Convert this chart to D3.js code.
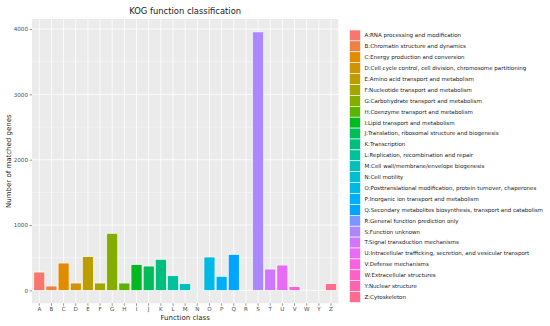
<!DOCTYPE html>
<html>
<head>
<meta charset="utf-8">
<script src="https://cdn.jsdelivr.net/npm/d3@7"></script>
<style>
  body { margin: 0; background: #fff; }
  text { font-family: "DejaVu Sans", sans-serif; }
</style>
</head>
<body>
<div id="chart"></div>
<script>
const classes = ['A','B','C','D','E','F','G','H','I','J','K','L','M','N','O','P','Q','R','S','T','U','V','W','Y','Z']
const counts = [280, 66, 418, 112, 515, 112, 872, 112, 393, 372, 474, 224, 102, 8, 510, 214, 550, 0, 3956, 326, 387, 57, 3, 2, 102]
const descriptions = [
  'A:RNA processing and modification',
  'B:Chromatin structure and dynamics',
  'C:Energy production and conversion',
  'D:Cell cycle control, cell division, chromosome partitioning',
  'E:Amino acid transport and metabolism',
  'F:Nucleotide transport and metabolism',
  'G:Carbohydrate transport and metabolism',
  'H:Coenzyme transport and metabolism',
  'I:Lipid transport and metabolism',
  'J:Translation, ribosomal structure and biogenesis',
  'K:Transcription',
  'L:Replication, recombination and repair',
  'M:Cell wall/membrane/envelope biogenesis',
  'N:Cell motility',
  'O:Posttranslational modification, protein turnover, chaperones',
  'P:Inorganic ion transport and metabolism',
  'Q:Secondary metabolites biosynthesis, transport and catabolism',
  'R:General function prediction only',
  'S:Function unknown',
  'T:Signal transduction mechanisms',
  'U:Intracellular trafficking, secretion, and vesicular transport',
  'V:Defense mechanisms',
  'W:Extracellular structures',
  'Y:Nuclear structure',
  'Z:Cytoskeleton'
]
const yTicks = [0, 1000, 2000, 3000, 4000]

const data = classes.map((c, i) => ({ cls: c, n: counts[i], desc: descriptions[i] }))

// polar LUV -> sRGB, same as R's hcl()
function hcl(h, c, l) {
  const rad = h * Math.PI / 180
  const U = c * Math.cos(rad), V = c * Math.sin(rad)
  const Xn = 95.047, Yn = 100, Zn = 108.883
  const Y = Yn * (l > 8 ? Math.pow((l + 16) / 116, 3) : l / 903.3)
  const den = Xn + 15 * Yn + 3 * Zn
  const u = U / (13 * l) + 4 * Xn / den
  const v = V / (13 * l) + 9 * Yn / den
  const X = 9 * Y * u / (4 * v)
  const Z = -X / 3 - 5 * Y + 3 * Y / v
  const lin = [
    ( 3.240479 * X - 1.537150 * Y - 0.498535 * Z) / 100,
    (-0.969256 * X + 1.875992 * Y + 0.041556 * Z) / 100,
    ( 0.055648 * X - 0.204043 * Y + 1.057311 * Z) / 100
  ]
  const g = lin.map(t => t <= 0.0031308 ? 12.92 * t : 1.055 * Math.pow(t, 1 / 2.4) - 0.055)
  return d3.rgb(...g.map(t => Math.max(0, Math.min(255, Math.round(t * 255))))).formatHex()
}
const hues = d3.range(classes.length).map(i => 15 + i * 360 / classes.length)
const color = d3.scaleOrdinal(classes, hues.map(h => hcl(h, 100, 65)))

const width = 550
const height = 326
const panel = { left: 32, right: 338.3, top: 19, bottom: 303.3 }

const svg = d3.select('#chart').append('svg').attr('width', width).attr('height', height)
svg.append('rect').attr('width', width).attr('height', height).attr('fill', '#fff')

const step = (panel.right - panel.left) / (classes.length - 1 + 1.2)
const x = d3.scaleBand()
  .domain(classes)
  .range([panel.left + 0.6 * step - step / 2, panel.right - 0.6 * step + step / 2])
  .paddingInner(0.1).paddingOuter(0.05)

const maxN = d3.max(counts)
const y = d3.scaleLinear()
  .domain([-0.05 * maxN, maxN * 1.05])
  .range([panel.bottom, panel.top])

svg.append('rect')
  .attr('x', panel.left).attr('y', panel.top)
  .attr('width', panel.right - panel.left).attr('height', panel.bottom - panel.top)
  .attr('fill', '#EBEBEB')

const grid = svg.append('g').attr('stroke', '#fff')
grid.selectAll('.minor').data(d3.range(500, 4500, 1000))
  .join('line')
  .attr('x1', panel.left).attr('x2', panel.right)
  .attr('y1', d => y(d)).attr('y2', d => y(d))
  .attr('stroke-width', 0.4)
grid.selectAll('.hmaj').data(yTicks)
  .join('line')
  .attr('x1', panel.left).attr('x2', panel.right)
  .attr('y1', d => y(d)).attr('y2', d => y(d))
  .attr('stroke-width', 0.8)
grid.selectAll('.vmaj').data(classes)
  .join('line')
  .attr('x1', d => x(d) + x.bandwidth() / 2).attr('x2', d => x(d) + x.bandwidth() / 2)
  .attr('y1', panel.top).attr('y2', panel.bottom)
  .attr('stroke-width', 0.8)

svg.append('g')
  .selectAll('rect')
  .data(data)
  .join('rect')
  .attr('x', d => x(d.cls))
  .attr('width', x.bandwidth())
  .attr('y', d => y(d.n))
  .attr('height', d => y(0) - y(d.n))
  .attr('fill', d => color(d.cls))
  .attr('stroke', d => d.n > 0 ? '#fff' : 'none')
  .attr('stroke-width', 0.6)

const yAxis = svg.append('g')
  .attr('transform', `translate(${panel.left},0)`)
  .call(d3.axisLeft(y).tickValues(yTicks).tickFormat(d3.format('d')).tickSize(2.5).tickPadding(1.5))
yAxis.select('.domain').remove()
yAxis.selectAll('line').attr('stroke', '#333').attr('stroke-width', 0.5)
yAxis.selectAll('text').attr('fill', '#4D4D4D').attr('font-size', 5.6)

const xAxis = svg.append('g')
  .attr('transform', `translate(0,${panel.bottom})`)
  .call(d3.axisBottom(x).tickSize(2.5).tickPadding(1.5))
xAxis.select('.domain').remove()
xAxis.selectAll('line').attr('stroke', '#333').attr('stroke-width', 0.5)
xAxis.selectAll('text').attr('fill', '#4D4D4D').attr('font-size', 5.6)

svg.append('text')
  .attr('x', (panel.left + panel.right) / 2).attr('y', 319.5)
  .attr('text-anchor', 'middle').attr('font-size', 7).attr('fill', '#1a1a1a')
  .text('Function class')

svg.append('text')
  .attr('transform', `translate(10.5,${(panel.top + panel.bottom) / 2}) rotate(-90)`)
  .attr('text-anchor', 'middle').attr('font-size', 7).attr('fill', '#1a1a1a')
  .text('Number of matched genes')

svg.append('text')
  .attr('x', (panel.left + panel.right) / 2).attr('y', 14)
  .attr('text-anchor', 'middle').attr('font-size', 8.4).attr('fill', '#1a1a1a')
  .text('KOG function classification')

const keyH = 10.9
const legend = svg.append('g').attr('transform', 'translate(349.5,30)')
const item = legend.selectAll('g')
  .data(data)
  .join('g')
  .attr('transform', (d, i) => `translate(0,${i * keyH})`)
item.append('rect')
  .attr('width', 11).attr('height', keyH)
  .attr('fill', d => color(d.cls))
  .attr('stroke', '#fff').attr('stroke-width', 0.6)
item.append('text')
  .attr('x', 15).attr('y', keyH / 2)
  .attr('dy', '0.35em')
  .attr('font-size', 5.5).attr('fill', '#1a1a1a')
  .text(d => d.desc)
</script>
</body>
</html>
